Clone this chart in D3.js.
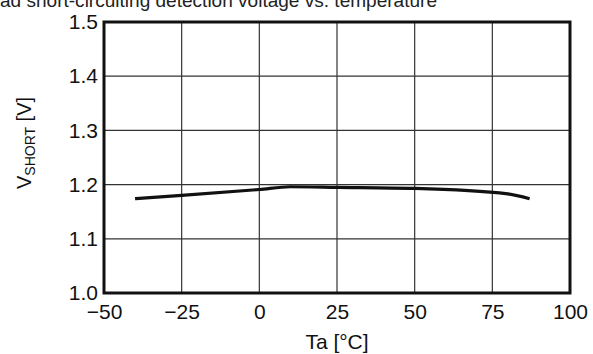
<!DOCTYPE html>
<html>
<head>
<meta charset="utf-8">
<script src="https://cdn.jsdelivr.net/npm/d3@7"></script>
<style>
  html, body { margin: 0; padding: 0; background: #fff; }
  svg { display: block; }
</style>
</head>
<body>
<svg id="chart" width="593" height="354"></svg>
<script>
// Short-circuit detection voltage vs. ambient temperature
const temperature = [-40, -25, 0, 10, 25, 50, 80, 87];
const vShort = [1.174, 1.180, 1.191, 1.196, 1.195, 1.193, 1.183, 1.174];
const xTicks = [-50, -25, 0, 25, 50, 75, 100];
const yTicks = [1.0, 1.1, 1.2, 1.3, 1.4, 1.5];
const titleText = "ad short-circuiting detection voltage vs. temperature";

const svg = d3.select("#chart");
const margin = { left: 104, right: 23, top: 22, bottom: 61 };
const W = 593, H = 354;

const x = d3.scaleLinear().domain([-50, 100]).range([margin.left, W - margin.right]);
const y = d3.scaleLinear().domain([1.0, 1.5]).range([H - margin.bottom, margin.top]);

const font = "'Liberation Sans', Arial, sans-serif";

// Caption line, running off the top edge of the page
svg.append("text")
  .attr("x", 0).attr("y", 6.5)
  .attr("font-family", font).attr("font-size", 19)
  .attr("textLength", 437).attr("lengthAdjust", "spacingAndGlyphs")
  .attr("fill", "#222")
  .text(titleText);

// Grid
const grid = svg.append("g");
grid.selectAll("line.gx").data(xTicks.slice(1, -1)).join("line")
  .attr("x1", d => x(d)).attr("x2", d => x(d))
  .attr("y1", y(1.5)).attr("y2", y(1.0))
  .attr("stroke", "#333").attr("stroke-width", 1.2);
grid.selectAll("line.gy").data(yTicks.slice(1, -1)).join("line")
  .attr("y1", d => y(d)).attr("y2", d => y(d))
  .attr("x1", x(-50)).attr("x2", x(100))
  .attr("stroke", "#333").attr("stroke-width", 1.2);

// Axes (labels only; frame drawn separately)
const fmtX = d => d < 0 ? "\u2212" + Math.abs(d) : String(d);
const xAxis = svg.append("g")
  .attr("transform", `translate(0,${y(1.0)})`)
  .call(d3.axisBottom(x).tickValues(xTicks).tickFormat(fmtX).tickSize(0).tickPadding(11));
const yAxis = svg.append("g")
  .attr("transform", `translate(${x(-50)},0)`)
  .call(d3.axisLeft(y).tickValues(yTicks).tickFormat(d3.format(".1f")).tickSize(0).tickPadding(6));
[xAxis, yAxis].forEach(a => {
  a.select(".domain").remove();
  a.selectAll("text").attr("font-family", font).attr("font-size", 21).attr("fill", "#111");
});

// Data line
const line = d3.line().x((d, i) => x(temperature[i])).y(d => y(d)).curve(d3.curveMonotoneX);
svg.append("path")
  .attr("d", line(vShort))
  .attr("fill", "none").attr("stroke", "#111").attr("stroke-width", 3.2)
  .attr("stroke-linejoin", "round");

// Frame
svg.append("rect")
  .attr("x", x(-50)).attr("y", y(1.5))
  .attr("width", x(100) - x(-50)).attr("height", y(1.0) - y(1.5))
  .attr("fill", "none").attr("stroke", "#111").attr("stroke-width", 3);

// Axis titles
svg.append("text")
  .attr("x", (x(-50) + x(100)) / 2).attr("y", 349)
  .attr("text-anchor", "middle")
  .attr("font-family", font).attr("font-size", 21).attr("fill", "#111")
  .text("Ta [°C]");

const yt = svg.append("text")
  .attr("transform", "translate(31,143) rotate(-90)")
  .attr("text-anchor", "middle")
  .attr("font-family", font).attr("font-size", 20).attr("fill", "#111");
yt.append("tspan").text("V");
yt.append("tspan").attr("font-size", 14).attr("dy", 4).text("SHORT");
yt.append("tspan").attr("dy", -4).text(" [V]");
</script>
</body>
</html>
